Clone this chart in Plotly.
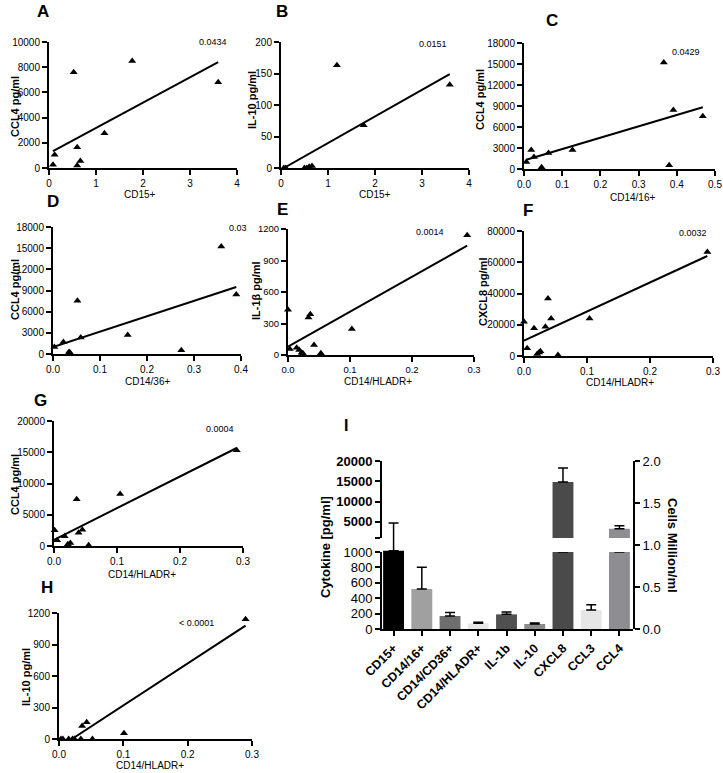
import plotly.graph_objects as go
import numpy as np

W, H = 723, 773
FONT = "Liberation Sans, Arial, sans-serif"

# ---------------- data ----------------
A_x = [0.085, 0.12, 0.525, 0.60, 0.60, 0.667, 1.18, 1.77, 3.60]
A_y = [250, 1050, 7600, 1650, 200, 550, 2750, 8500, 6800]
A_fit_x = [0.085, 3.60]
A_fit_y = [1330, 8400]

B_x = [0.06, 0.10, 0.50, 0.55, 0.60, 0.66, 1.19, 1.76, 3.59]
B_y = [0, 0, 0, 0, 2, 3, 163, 68, 132]
B_fit_x = [0.06, 3.59]
B_fit_y = [0, 149]

C_x = [0.006, 0.019, 0.026, 0.046, 0.064, 0.127, 0.366, 0.38, 0.391, 0.468]
C_y = [1000, 2700, 1700, 240, 2270, 2700, 15200, 520, 8440, 7540]
C_fit_x = [0.006, 0.468]
C_fit_y = [1330, 8810]

D_x = [0.003, 0.022, 0.034, 0.036, 0.052, 0.059, 0.159, 0.273, 0.358, 0.39]
D_y = [1000, 1710, 285, 200, 7550, 2330, 2710, 520, 15250, 8450]
D_fit_x = [0.0, 0.39]
D_fit_y = [1000, 9500]

E_x = [0.0, 0.003, 0.014, 0.018, 0.022, 0.024, 0.033, 0.036, 0.042, 0.053, 0.103, 0.289]
E_y = [430, 57, 70, 48, 22, 16, 357, 389, 96, 16, 248, 1140]
E_fit_x = [0.0, 0.289]
E_fit_y = [80, 1041]

F_x = [0.0, 0.005, 0.016, 0.021, 0.024, 0.026, 0.034, 0.038, 0.043, 0.054, 0.104, 0.291]
F_y = [21900, 4900, 17700, 1300, 2200, 3000, 18700, 36800, 24000, 640, 24000, 66600]
F_fit_x = [0.0, 0.291]
F_fit_y = [9800, 64000]

G_x = [0.001, 0.005, 0.017, 0.022, 0.026, 0.036, 0.039, 0.045, 0.055, 0.105, 0.29]
G_y = [2500, 900, 1550, 270, 480, 7470, 2130, 2610, 110, 8320, 15300]
G_fit_x = [0.0, 0.29]
G_fit_y = [1000, 15680]

H_x = [0.003, 0.006, 0.015, 0.021, 0.024, 0.034, 0.036, 0.043, 0.052, 0.101, 0.29]
H_y = [0, 0, 0, 0, 0, 0, 124, 159, 0, 54, 1140]
H_fit_x = [0.02, 0.29]
H_fit_y = [0, 1080]

p_values = ["0.0434", "0.0151", "0.0429", "0.03", "0.0014", "0.0032", "0.0004", "< 0.0001"]

# panel I
categories = ["CD15+", "CD14/16+", "CD14/CD36+", "CD14/HLADR+", "IL-1b", "IL-10", "CXCL8", "CCL3", "CCL4"]
cell_cats = ["CD15+", "CD14/16+", "CD14/CD36+", "CD14/HLADR+"]
cell_vals = [0.932, 0.476, 0.155, 0.068]          # Million/ml
cell_err = [0.33, 0.26, 0.04, 0.012]
cell_colors = ["#000000", "#a0a0a0", "#6e6e6e", "#e6e6e6"]
cyto_cats = ["IL-1b", "IL-10", "CXCL8", "CCL3", "CCL4"]
cyto_vals = [190, 65, 14800, 247, 3280]          # pg/ml
cyto_err = [30, 13, 3450, 69, 740]
cyto_colors = ["#505050", "#8c8c8c", "#4a4a4a", "#e6e6e6", "#8e8e92"]
BREAK = 1000

# ---------------- helpers ----------------
def dx(a, b):
    return [a / W, b / W]

def dy(top, bot):
    return [1 - bot / H, 1 - top / H]

fig = go.Figure()
annotations = []

def ann(text, px, py, size=10, bold=False, angle=0, xanchor="center", yanchor="middle"):
    annotations.append(dict(
        text=("<b>%s</b>" % text) if bold else text, x=px / W, y=1 - py / H,
        xref="paper", yref="paper", showarrow=False, textangle=angle,
        xanchor=xanchor, yanchor=yanchor,
        font=dict(family=FONT, size=size, color="black")))

panels = [
    dict(x=A_x, y=A_y, fx=A_fit_x, fy=A_fit_y, box=(49, 237, 42, 168), xr=[0, 4], xt=[0, 1, 2, 3, 4],
         yr=[0, 10000], yt=list(range(0, 10001, 2000)), xtitle="CD15+", ytitle="CCL4 pg/ml",
         lab="A", labp=(43, 12), ytp=(15, 107), xtp=(140, 194), pp=(213, 42), xf="", fs=10),
    dict(x=B_x, y=B_y, fx=B_fit_x, fy=B_fit_y, box=(281, 469, 42, 168), xr=[0, 4], xt=[0, 1, 2, 3, 4],
         yr=[0, 200], yt=[0, 50, 100, 150, 200], xtitle="CD15+", ytitle="IL-10 pg/ml",
         lab="B", labp=(282, 12), ytp=(252, 100), xtp=(375, 194), pp=(433, 44), xf="", fs=10),
    dict(x=C_x, y=C_y, fx=C_fit_x, fy=C_fit_y, box=(524, 715, 43, 169), xr=[0, 0.5], xt=[0, 0.1, 0.2, 0.3, 0.4, 0.5],
         yr=[0, 18000], yt=list(range(0, 18001, 3000)), xtitle="CD14/16+", ytitle="CCL4 pg/ml",
         lab="C", labp=(552, 20), ytp=(480, 100), xtp=(632, 197), pp=(686, 52), xf=".1f", fs=10),
    dict(x=D_x, y=D_y, fx=D_fit_x, fy=D_fit_y, box=(53, 241, 227, 354), xr=[0, 0.4], xt=[0, 0.1, 0.2, 0.3, 0.4],
         yr=[0, 18000], yt=list(range(0, 18001, 3000)), xtitle="CD14/36+", ytitle="CCL4 pg/ml",
         lab="D", labp=(53, 201), ytp=(15, 290), xtp=(147, 382), pp=(238, 228), xf=".1f", fs=10),
    dict(x=E_x, y=E_y, fx=E_fit_x, fy=E_fit_y, box=(288, 474, 229, 355), xr=[0, 0.3], xt=[0, 0.1, 0.2, 0.3],
         yr=[0, 1200], yt=[0, 300, 600, 900, 1200], xtitle="CD14/HLADR+", ytitle="IL-1\u03b2 pg/ml",
         lab="E", labp=(282, 209), ytp=(256, 291), xtp=(378, 382), pp=(430, 232), xf=".1f", fs=9.5),
    dict(x=F_x, y=F_y, fx=F_fit_x, fy=F_fit_y, box=(524, 713, 231, 356), xr=[0, 0.3], xt=[0, 0.1, 0.2, 0.3],
         yr=[0, 80000], yt=[0, 20000, 40000, 60000, 80000], xtitle="CD14/HLADR+", ytitle="CXCL8 pg/ml",
         lab="F", labp=(528, 210), ytp=(483, 292), xtp=(620, 383), pp=(693, 233), xf=".1f", fs=10),
    dict(x=G_x, y=G_y, fx=G_fit_x, fy=G_fit_y, box=(54, 243, 421, 546), xr=[0, 0.3], xt=[0, 0.1, 0.2, 0.3],
         yr=[0, 20000], yt=[0, 5000, 10000, 15000, 20000], xtitle="CD14/HLADR+", ytitle="CCL4 pg/ml",
         lab="G", labp=(40, 400), ytp=(15, 485), xtp=(142, 574), pp=(220, 429), xf=".1f", fs=10),
    dict(x=H_x, y=H_y, fx=H_fit_x, fy=H_fit_y, box=(59, 252, 613, 739), xr=[0, 0.3], xt=[0, 0.1, 0.2, 0.3],
         yr=[0, 1200], yt=[0, 300, 600, 900, 1200], xtitle="CD14/HLADR+", ytitle="IL-10 pg/ml",
         lab="H", labp=(47, 587), ytp=(26, 677), xtp=(150, 765), pp=(197, 623), xf=".1f", fs=10),
]

axis_common = dict(showline=True, linecolor="black", linewidth=2, ticks="outside", ticklen=5,
                   tickwidth=1.5, tickcolor="black", showgrid=False, zeroline=False, automargin=False,
                   tickfont=dict(family=FONT, size=10, color="black"), fixedrange=True)

layout_axes = {}
for i, p in enumerate(panels, start=1):
    xa = "x%d" % i
    ya = "y%d" % i
    fig.add_trace(go.Scatter(x=p["x"], y=p["y"], mode="markers", xaxis=xa, yaxis=ya,
                             marker=dict(symbol="triangle-up", size=7, color="black"),
                             cliponaxis=False, showlegend=False))
    fig.add_trace(go.Scatter(x=p["fx"], y=p["fy"], mode="lines", xaxis=xa, yaxis=ya,
                             line=dict(color="black", width=2), showlegend=False))
    x0, x1, yt, yb = p["box"]
    tf = dict(family=FONT, size=p["fs"], color="black")
    layout_axes["xaxis%d" % i] = dict(axis_common, domain=dx(x0, x1), anchor=ya, range=p["xr"],
                                      tickvals=p["xt"], tickformat=p["xf"], tickfont=tf)
    layout_axes["yaxis%d" % i] = dict(axis_common, domain=dy(yt, yb), anchor=xa, range=p["yr"],
                                      tickvals=p["yt"], tickformat="d", tickfont=tf)
    ann(p["lab"], *p["labp"], size=17, bold=True)
    ann(p["ytitle"], *p["ytp"], size=11, bold=True, angle=-90)
    ann(p["xtitle"], *p["xtp"], size=10)
    ann(p_values[i - 1], *p["pp"], size=9)

# ---------------- panel I ----------------
cyto_vals_a = np.array(cyto_vals, dtype=float)
cyto_err_a = np.array(cyto_err, dtype=float)
low_mask = cyto_vals_a <= BREAK
high_mask = ~low_mask

fig.add_trace(go.Bar(x=cell_cats, y=cell_vals, xaxis="x9", yaxis="y11", width=0.74,
                     marker=dict(color=cell_colors, line=dict(width=0)),
                     error_y=dict(type="data", array=cell_err, symmetric=False, arrayminus=[0] * 4,
                                  color="black", thickness=1.5, width=5),
                     showlegend=False))
fig.add_trace(go.Bar(x=cyto_cats, y=np.minimum(cyto_vals_a, BREAK), xaxis="x9", yaxis="y9", width=0.74,
                     marker=dict(color=cyto_colors, line=dict(width=0)),
                     error_y=dict(type="data", array=np.where(low_mask, cyto_err_a, 0),
                                  arrayminus=np.zeros(len(cyto_cats)), symmetric=False,
                                  color="black", thickness=1.5, width=5),
                     showlegend=False))
hi_cats = [c for c, m in zip(cyto_cats, high_mask) if m]
hi_cols = [c for c, m in zip(cyto_colors, high_mask) if m]
fig.add_trace(go.Bar(x=hi_cats, y=cyto_vals_a[high_mask] - BREAK, base=BREAK, xaxis="x9", yaxis="y10",
                     width=0.74, marker=dict(color=hi_cols, line=dict(width=0)),
                     error_y=dict(type="data", array=cyto_err_a[high_mask], symmetric=False,
                                  arrayminus=np.zeros(int(high_mask.sum())),
                                  color="black", thickness=1.5, width=5),
                     showlegend=False))

boldtick = dict(family=FONT, size=13, color="black")
I_x0, I_x1 = 382, 633
layout_axes["xaxis9"] = dict(axis_common, domain=dx(I_x0, I_x1), anchor="y9", type="category",
                             categoryorder="array", categoryarray=categories, range=[-0.41, 8.48],
                             tickangle=-45, tickfont=dict(family=FONT, size=12.5, color="black"),
                             tickprefix="<b>", ticksuffix="</b>")
layout_axes["yaxis9"] = dict(axis_common, domain=dy(552, 629), anchor="x9", range=[0, BREAK],
                             tickvals=[0, 200, 400, 600, 800, 1000], tickfont=boldtick,
                             tickprefix="<b>", ticksuffix="</b>")
layout_axes["yaxis10"] = dict(axis_common, domain=dy(461, 538), anchor="x9", range=[BREAK, 20000],
                              tickvals=[1000, 5000, 10000, 15000, 20000],
                              ticktext=["", "<b>5000</b>", "<b>10000</b>", "<b>15000</b>", "<b>20000</b>"],
                              tickfont=boldtick)
layout_axes["yaxis11"] = dict(axis_common, domain=dy(461, 629), anchor="x9", side="right", range=[0, 2],
                              tickvals=[0, 0.5, 1.0, 1.5, 2.0], tickformat=".1f", tickfont=boldtick,
                              tickprefix="<b>", ticksuffix="</b>")

ann("I", 346, 425, size=16, bold=True)
ann("Cytokine [pg/ml]", 325, 547, size=13, bold=True, angle=-90)
ann("Cells Million/ml", 673, 545, size=13, bold=True, angle=90)

fig.update_layout(width=W, height=H, margin=dict(l=0, r=0, t=0, b=0, autoexpand=False),
                  paper_bgcolor="white", plot_bgcolor="rgba(0,0,0,0)", barmode="overlay",
                  annotations=annotations, font=dict(family=FONT, color="black"),
                  **layout_axes)

fig.write_html("out.html", config={"displayModeBar": False},
               post_script="document.body.style.margin='0';document.body.style.overflow='hidden';")
